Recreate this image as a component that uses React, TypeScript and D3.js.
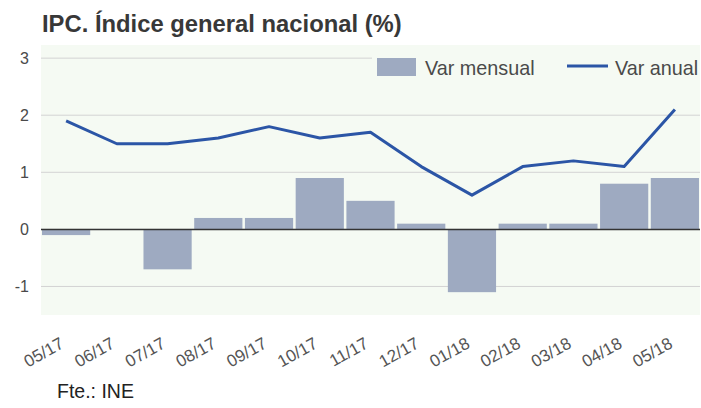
import * as d3 from "d3";

const months = ["05/17", "06/17", "07/17", "08/17", "09/17", "10/17", "11/17", "12/17", "01/18", "02/18", "03/18", "04/18", "05/18"];
const varMensual = [-0.1, 0.0, -0.7, 0.2, 0.2, 0.9, 0.5, 0.1, -1.1, 0.1, 0.1, 0.8, 0.9];
const varAnual = [1.9, 1.5, 1.5, 1.6, 1.8, 1.6, 1.7, 1.1, 0.6, 1.1, 1.2, 1.1, 2.1];
const yTicks = [-1, 0, 1, 2, 3];

const W = 701;
const H = 408;
const plot = { left: 41, right: 700, top: 45, bottom: 315 };
const barColor = "#9eaac1";
const lineColor = "#2b55a6";
const bgColor = "#f5faf3";
const font = "'Liberation Sans', Arial, sans-serif";

export default function App() {
  const x = d3.scaleBand<string>().domain(months).range([plot.left, plot.right]).paddingInner(0.05).paddingOuter(0.02);
  const y = d3.scaleLinear().domain([-1.5, 3.23]).range([plot.bottom, plot.top]);

  const line = d3
    .line<number>()
    .x((_, i) => (x(months[i]) ?? 0) + x.bandwidth() / 2)
    .y((d) => y(d));

  return (
    <svg width={W} height={H} style={{ position: "absolute", left: 0, top: 0 }}>
      <rect width={W} height={H} fill="#fff" />
      <text x={42} y={32} fontFamily={font} fontWeight="bold" fontSize={23.8} fill="#383838">
        IPC. Índice general nacional (%)
      </text>

      <rect x={plot.left} y={plot.top} width={plot.right - plot.left} height={plot.bottom - plot.top} fill={bgColor} />

      {yTicks.map((t) => (
        <g key={t}>
          <line x1={plot.left} x2={plot.right} y1={y(t)} y2={y(t)} stroke="#d3d3d3" strokeWidth={1} />
          <text x={29} y={y(t) + 6} textAnchor="end" fontFamily={font} fontSize={16} fill="#4a4a4a">
            {t}
          </text>
        </g>
      ))}

      {varMensual.map((v, i) => (
        <rect
          key={months[i]}
          x={x(months[i])}
          width={x.bandwidth()}
          y={y(Math.max(0, v))}
          height={Math.abs(y(v) - y(0))}
          fill={barColor}
        />
      ))}

      <line x1={plot.left} x2={plot.right} y1={y(0)} y2={y(0)} stroke="#333" strokeWidth={1.5} />

      <path d={line(varAnual) ?? ""} fill="none" stroke={lineColor} strokeWidth={3} strokeLinejoin="round" />

      <g fontFamily={font} fontSize={19.8} fill="#4a4a4a">
        <rect x={372} y={52} width={328} height={26} fill={bgColor} />
        <rect x={377} y={58} width={39} height={18} fill={barColor} />
        <text x={425} y={75}>Var mensual</text>
        <line x1={567} x2={608} y1={66} y2={66} stroke={lineColor} strokeWidth={3} />
        <text x={615} y={75}>Var anual</text>
      </g>

      {months.map((m) => (
        <text
          key={m}
          transform={`translate(${(x(m) ?? 0) + x.bandwidth() / 2 - 1},${347}) rotate(-29)`}
          textAnchor="end"
          fontFamily={font}
          fontSize={17}
          fill="#555"
        >
          {m}
        </text>
      ))}

      <text x={57} y={398} fontFamily={font} fontSize={19.5} fill="#222">
        Fte.: INE
      </text>
    </svg>
  );
}
